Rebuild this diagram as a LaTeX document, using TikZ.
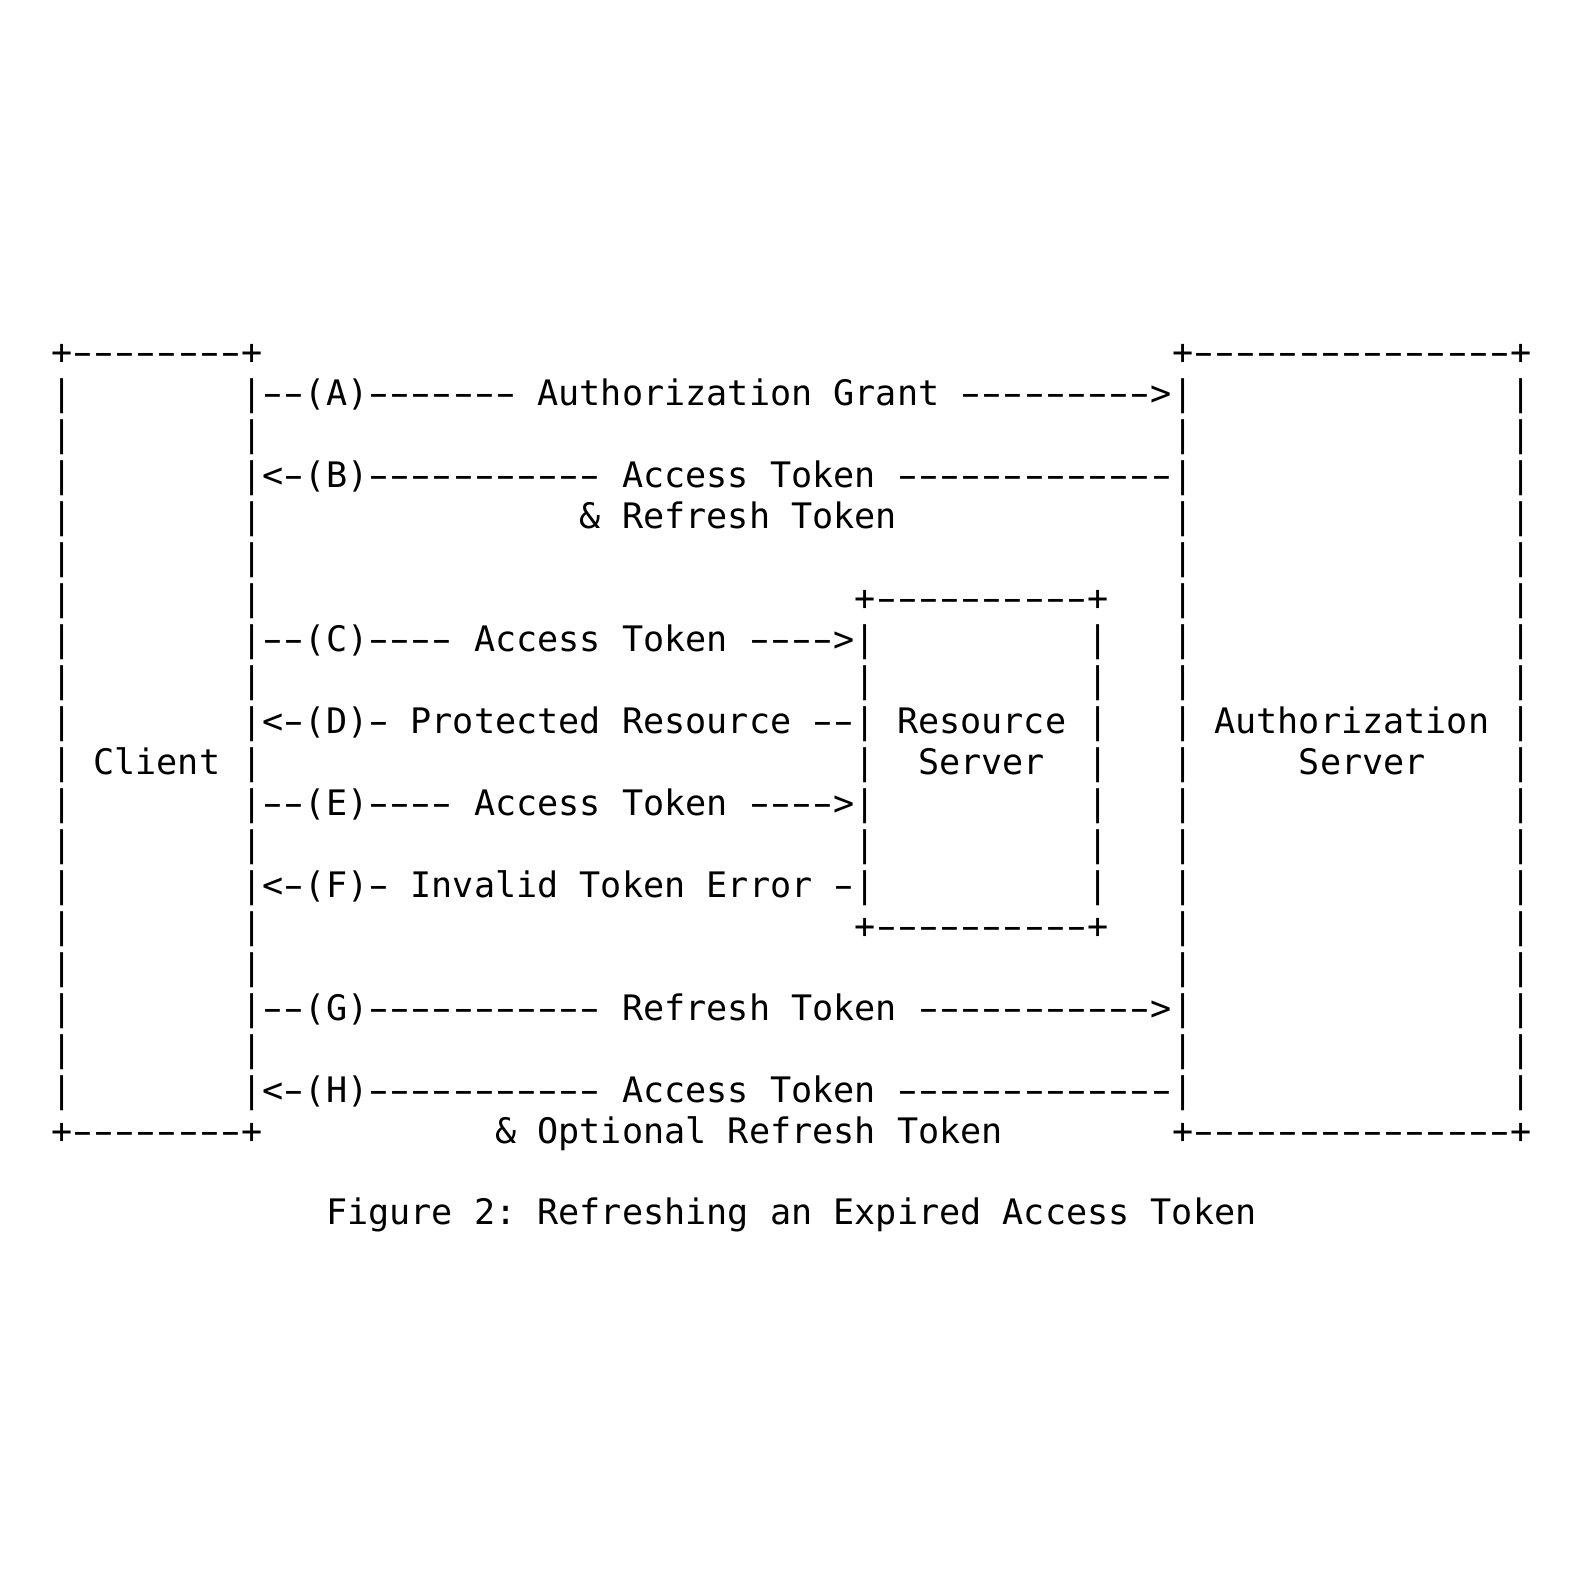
\documentclass[tikz,border=0pt]{standalone}
\usepackage{fontspec}
\usepackage{graphicx}
\setmonofont{DejaVu Sans Mono}
\newcommand\hy{\makebox[\fontcharwd\font`\-][c]{\scalebox{1.65}[1]{-}}}
\ExplSyntaxOn
\cs_new_protected:Npn \sk #1 { \prg_replicate:nn {#1} { \nobreakspace } }
\tl_new:N \l_asc_row_tl
\cs_new_protected:Npn \asctext #1
  {
    \tl_set:Nn \l_asc_row_tl {#1}
    \tl_replace_all:Nnn \l_asc_row_tl { - } { \hy }
    \tl_use:N \l_asc_row_tl
  }
\ExplSyntaxOff
\tikzset{ascrow/.style={anchor=base west, inner sep=0pt, outer sep=0pt,
  font=\ttfamily\fontsize{35.13}{41}\selectfont, text=black}}
\newcommand\asciirow[3]{\node[ascrow] (#1) at (51.1pt,{-(364.4pt+40.98pt*#2)}) {\asctext{#3}};}
\begin{document}
\begin{tikzpicture}
\useasboundingbox[fill=white] (0,0) rectangle (1582pt,-1584pt);
\asciirow{r0}{0}{+--------+\sk{43}+---------------+}
\asciirow{r1}{1}{|\sk{8}|--(A)-------~Authorization~Grant~--------->|\sk{15}|}
\asciirow{r2}{2}{|\sk{8}|\sk{43}|\sk{15}|}
\asciirow{r3}{3}{|\sk{8}|<-(B)-----------~Access~Token~-------------|\sk{15}|}
\asciirow{r4}{4}{|\sk{8}|\sk{15}\&~Refresh~Token\sk{13}|\sk{15}|}
\asciirow{r5}{5}{|\sk{8}|\sk{43}|\sk{15}|}
\asciirow{r6}{6}{|\sk{8}|\sk{28}+----------+\sk{3}|\sk{15}|}
\asciirow{r7}{7}{|\sk{8}|--(C)----~Access~Token~---->|\sk{10}|\sk{3}|\sk{15}|}
\asciirow{r8}{8}{|\sk{8}|\sk{28}|\sk{10}|\sk{3}|\sk{15}|}
\asciirow{r9}{9}{|\sk{8}|<-(D)-~Protected~Resource~--|~Resource~|\sk{3}|~Authorization~|}
\asciirow{r10}{10}{|~Client~|\sk{28}|\sk{2}Server\sk{2}|\sk{3}|\sk{5}Server\sk{4}|}
\asciirow{r11}{11}{|\sk{8}|--(E)----~Access~Token~---->|\sk{10}|\sk{3}|\sk{15}|}
\asciirow{r12}{12}{|\sk{8}|\sk{28}|\sk{10}|\sk{3}|\sk{15}|}
\asciirow{r13}{13}{|\sk{8}|<-(F)-~Invalid~Token~Error~-|\sk{10}|\sk{3}|\sk{15}|}
\asciirow{r14}{14}{|\sk{8}|\sk{28}+----------+\sk{3}|\sk{15}|}
\asciirow{r15}{15}{|\sk{8}|\sk{43}|\sk{15}|}
\asciirow{r16}{16}{|\sk{8}|--(G)-----------~Refresh~Token~----------->|\sk{15}|}
\asciirow{r17}{17}{|\sk{8}|\sk{43}|\sk{15}|}
\asciirow{r18}{18}{|\sk{8}|<-(H)-----------~Access~Token~-------------|\sk{15}|}
\asciirow{r19}{19}{+--------+\sk{11}\&~Optional~Refresh~Token\sk{8}+---------------+}
\asciirow{cap}{21}{\sk{13}Figure~2:~Refreshing~an~Expired~Access~Token}
\end{tikzpicture}
\end{document}
